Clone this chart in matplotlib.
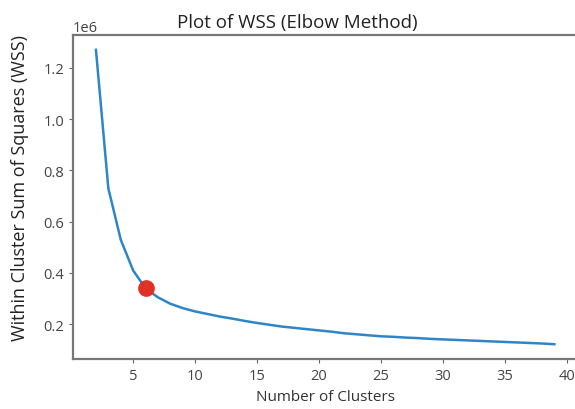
import matplotlib
matplotlib.use('Agg')
import matplotlib.pyplot as plt

plt.rcParams['font.family'] = ['Open Sans', 'DejaVu Sans']

clusters = list(range(2, 40))
wss = [1.27, 0.73, 0.53, 0.41, 0.34, 0.305, 0.28, 0.263, 0.25, 0.24,
       0.23, 0.222, 0.213, 0.205, 0.198, 0.191, 0.186, 0.181, 0.176, 0.171,
       0.165, 0.161, 0.157, 0.153, 0.151, 0.148, 0.146, 0.143, 0.141, 0.139,
       0.137, 0.135, 0.133, 0.131, 0.129, 0.127, 0.125, 0.122]
wss = [v * 1e6 for v in wss]
elbow_k = 6
elbow_wss = 0.34e6

fig = plt.figure(figsize=(5.75, 4.1), dpi=100)
ax = fig.add_axes([0.127, 0.122, 0.877, 0.790])

ax.plot(clusters, wss, color='#2e86c8', linewidth=1.8)
ax.plot(elbow_k, elbow_wss, 'o', color='#e03224', markersize=11)

ax.set_title('Plot of WSS (Elbow Method)', fontsize=13.5, color='#222222', x=0.445)
ax.set_xlabel('Number of Clusters', fontsize=11, color='#333333')
ax.set_ylabel('Within Cluster Sum of Squares (WSS)', fontsize=13,
              color='#222222')
ax.yaxis.set_label_coords(-0.088, 0.53)
ax.tick_params(labelsize=10.5, color='#666666', labelcolor='#444444', length=3)
ax.yaxis.get_offset_text().set_fontsize(10.5)
ax.yaxis.get_offset_text().set_color('#444444')
for s in ax.spines.values():
    s.set_color('#777777')
    s.set_linewidth(1.6)

fig.savefig('out.png', dpi=100)
